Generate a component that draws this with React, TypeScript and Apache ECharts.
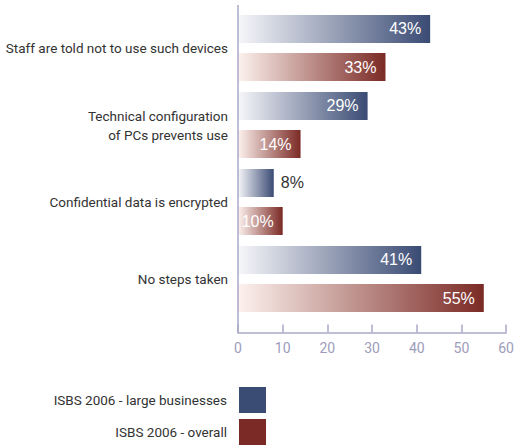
import React, { useEffect, useRef } from "react";
import * as echarts from "echarts";

const categories = [
  "Staff are told not to use such devices",
  "Technical configuration\nof PCs prevents use",
  "Confidential data is encrypted",
  "No steps taken",
];
const largeBusinesses = [43, 29, 8, 41];
const overall = [33, 14, 10, 55];
const seriesNames = ["ISBS 2006 - large businesses", "ISBS 2006 - overall"];
const xTicks = [0, 10, 20, 30, 40, 50, 60];

const FONT = "Roboto, 'Liberation Sans', sans-serif";
const BLUE = "#3a4b74";
const RED = "#7b2a25";

function grad(from: string, to: string) {
  return new echarts.graphic.LinearGradient(0, 0, 1, 0, [
    { offset: 0, color: from },
    { offset: 1, color: to },
  ]);
}

function labelFor(v: number) {
  const outside = v < 10;
  return {
    show: true,
    position: outside ? "right" : "insideRight",
    distance: outside ? 7 : 9,
    color: outside ? "#333333" : "#ffffff",
    fontSize: 16,
    fontFamily: "'Liberation Sans', Arial, sans-serif",
    formatter: "{c}%",
  };
}

export default function App() {
  const ref = useRef<HTMLDivElement>(null);
  useEffect(() => {
    if (!ref.current) return;
    const chart = echarts.init(ref.current, undefined, { renderer: "svg" });
    chart.setOption({
      animation: false,
      backgroundColor: "#ffffff",
      grid: { left: 238, right: 8, top: 9.5, height: 308, containLabel: false },
      legend: {
        orient: "vertical",
        align: "right",
        right: 251,
        top: 387,
        padding: 0,
        itemWidth: 27,
        itemHeight: 26,
        itemGap: 6,
        icon: "rect",
        textStyle: {
          color: "#333333",
          fontSize: 13.5,
          fontFamily: FONT,
          padding: [0, 7, 0, 0],
        },
        data: [
          { name: seriesNames[0], itemStyle: { color: BLUE } },
          { name: seriesNames[1], itemStyle: { color: RED } },
        ],
      },
      xAxis: {
        type: "value",
        min: xTicks[0],
        max: xTicks[xTicks.length - 1],
        interval: 10,
        offset: 15,
        axisLine: { show: true, lineStyle: { color: "#a9a9c9", width: 1.5 } },
        axisTick: { show: true, inside: true, length: 8, lineStyle: { color: "#a9a9c9", width: 1.5 } },
        axisLabel: { color: "#9d9dbb", fontSize: 14, fontFamily: FONT, margin: 8 },
        splitLine: { show: false },
      },
      yAxis: {
        type: "category",
        inverse: true,
        data: categories,
        axisLine: { show: false },
        axisTick: { show: false },
        axisLabel: {
          color: "#333333",
          fontSize: 13.5,
          fontFamily: FONT,
          margin: 10,
          align: "right",
          lineHeight: 19,
        },
      },
      graphic: [
        {
          type: "line",
          shape: { x1: 238, y1: 5, x2: 238, y2: 333 },
          style: { stroke: "#a9a9c9", lineWidth: 1.5 },
          z: 10,
        },
      ],
      series: [
        {
          name: seriesNames[0],
          type: "bar",
          barWidth: 28,
          barGap: "36%",
          itemStyle: { color: grad("#f7f7fa", BLUE) },
          data: largeBusinesses.map((v) => ({ value: v, label: labelFor(v) })),
        },
        {
          name: seriesNames[1],
          type: "bar",
          barWidth: 28,
          barGap: "36%",
          itemStyle: { color: grad("#fdf2ee", RED) },
          data: overall.map((v) => ({ value: v, label: labelFor(v) })),
        },
      ],
    });
    return () => chart.dispose();
  }, []);
  return <div ref={ref} style={{ width: 517, height: 445, position: "absolute", left: 0, top: 0 }} />;
}
